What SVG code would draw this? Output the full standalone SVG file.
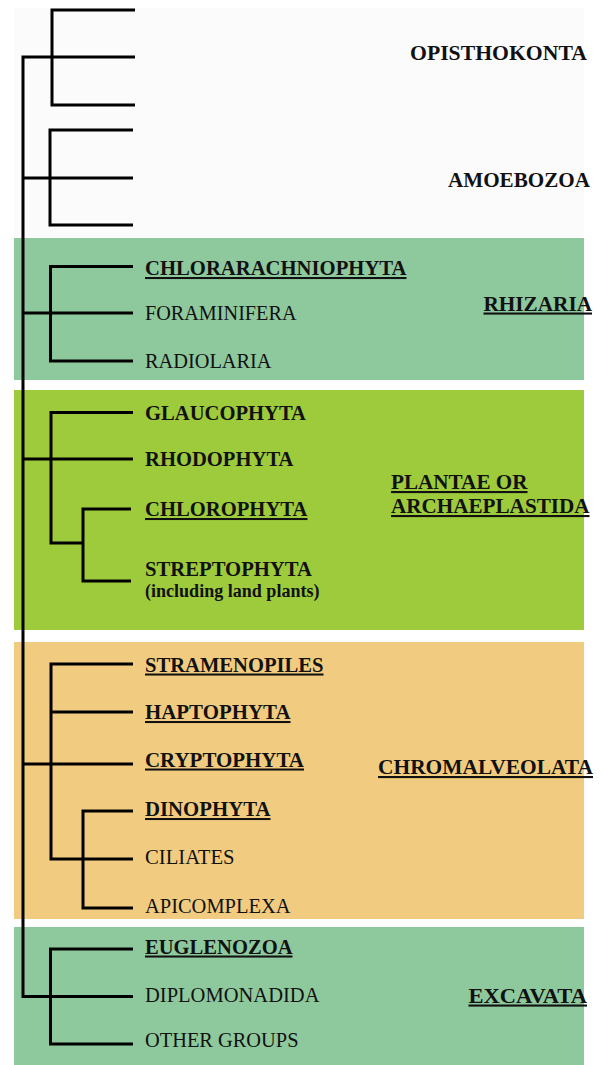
<svg xmlns="http://www.w3.org/2000/svg" width="605" height="1065" viewBox="0 0 605 1065">
<style>
.edge{fill:none;stroke:#000;stroke-width:3;stroke-linejoin:miter;stroke-linecap:butt}
.leaf{font-family:"Liberation Serif","Times New Roman",serif;font-size:20.5px;fill:#111}
.b{font-weight:bold}
.u{text-decoration:underline}
.sub{font-size:18px}
.grp{font-family:"Liberation Serif","Times New Roman",serif;font-size:21px;font-weight:bold;fill:#111}
.green{fill:#8ec89d}
</style>
<rect width="605" height="1065" fill="#ffffff"/>
<rect x="14" y="8" width="570" height="229" fill="#fbfbfb"/>

<g id="opisthokonta">
  <text class="grp" x="410" y="60" textLength="177" lengthAdjust="spacingAndGlyphs">OPISTHOKONTA</text>
</g>
<g id="amoebozoa">
  <text class="grp" x="448" y="187" textLength="142" lengthAdjust="spacingAndGlyphs">AMOEBOZOA</text>
</g>

<g id="rhizaria">
  <rect class="green" x="14" y="238" width="570" height="142"/>
  <text class="grp u" x="483.5" y="310.5" textLength="108.5" lengthAdjust="spacingAndGlyphs">RHIZARIA</text>
</g>
<g id="plantae">
  <rect x="14" y="390" width="570" height="240" fill="#9ecb3c"/>
  <text class="grp u" x="391" y="489" textLength="136.5" lengthAdjust="spacingAndGlyphs">PLANTAE OR</text>
  <text class="grp u" x="391" y="513" textLength="198.5" lengthAdjust="spacingAndGlyphs">ARCHAEPLASTIDA</text>
</g>
<g id="chromalveolata">
  <rect x="14" y="642" width="570" height="277" fill="#f1cc80"/>
  <text class="grp u" x="378" y="774" textLength="215" lengthAdjust="spacingAndGlyphs">CHROMALVEOLATA</text>
</g>
<g id="excavata">
  <rect class="green" x="14" y="927" width="570" height="138"/>
  <text class="grp u" x="468.5" y="1002.5" textLength="118.5" lengthAdjust="spacingAndGlyphs">EXCAVATA</text>
</g>

<g id="connectors">
  <path class="edge" d="M52,57 H23 V996.5 H50.5 M23,178 H50 M23,313 H50.5 M23,459 H51 M23,764 H51"/>
  <path class="edge" d="M135,10 H52 V105 H135 M52,57 H135"/>
  <path class="edge" d="M133,130 H50 V225 H133 M50,178 H133"/>
  <path class="edge" d="M133,266.5 H50.5 V361 H133 M50.5,313 H133"/>
  <path class="edge" d="M133,412.5 H51 V543 H83 M51,459 H133 M131,509 H83 V581 H131"/>
  <path class="edge" d="M133,664 H51 V859 H133 M51,712 H133 M51,764 H133 M133,811 H83 V908 H133"/>
  <path class="edge" d="M133,949 H50.5 V1044 H133 M50.5,996.5 H133"/>
</g>

<g id="chlorarachniophyta"><text class="leaf b u" x="145" y="275" textLength="261.5" lengthAdjust="spacingAndGlyphs">CHLORARACHNIOPHYTA</text></g>
<g id="foraminifera"><text class="leaf" x="145" y="320" textLength="151.5" lengthAdjust="spacingAndGlyphs">FORAMINIFERA</text></g>
<g id="radiolaria"><text class="leaf" x="145" y="368" textLength="126.5" lengthAdjust="spacingAndGlyphs">RADIOLARIA</text></g>

<g id="glaucophyta"><text class="leaf b" x="145" y="419.5" textLength="161" lengthAdjust="spacingAndGlyphs">GLAUCOPHYTA</text></g>
<g id="rhodophyta"><text class="leaf b" x="145" y="466" textLength="148.5" lengthAdjust="spacingAndGlyphs">RHODOPHYTA</text></g>
<g id="chlorophyta"><text class="leaf b u" x="145" y="516" textLength="162.5" lengthAdjust="spacingAndGlyphs">CHLOROPHYTA</text></g>
<g id="streptophyta">
  <text class="leaf b" x="145" y="575.5" textLength="167" lengthAdjust="spacingAndGlyphs">STREPTOPHYTA</text>
  <text class="leaf b sub" x="145" y="597" textLength="174.5" lengthAdjust="spacingAndGlyphs">(including land plants)</text>
</g>

<g id="stramenopiles"><text class="leaf b u" x="145" y="671.5" textLength="178.5" lengthAdjust="spacingAndGlyphs">STRAMENOPILES</text></g>
<g id="haptophyta"><text class="leaf b u" x="145" y="719" textLength="145.5" lengthAdjust="spacingAndGlyphs">HAPTOPHYTA</text></g>
<g id="cryptophyta"><text class="leaf b u" x="145" y="766.5" textLength="159" lengthAdjust="spacingAndGlyphs">CRYPTOPHYTA</text></g>
<g id="dinophyta"><text class="leaf b u" x="145" y="816" textLength="125.5" lengthAdjust="spacingAndGlyphs">DINOPHYTA</text></g>
<g id="ciliates"><text class="leaf" x="145" y="864" textLength="89.5" lengthAdjust="spacingAndGlyphs">CILIATES</text></g>
<g id="apicomplexa"><text class="leaf" x="145" y="913" textLength="145.5" lengthAdjust="spacingAndGlyphs">APICOMPLEXA</text></g>

<g id="euglenozoa"><text class="leaf b u" x="145" y="953.5" textLength="147.5" lengthAdjust="spacingAndGlyphs">EUGLENOZOA</text></g>
<g id="diplomonadida"><text class="leaf" x="145" y="1001.5" textLength="174.5" lengthAdjust="spacingAndGlyphs">DIPLOMONADIDA</text></g>
<g id="other-groups"><text class="leaf" x="145" y="1047" textLength="153.5" lengthAdjust="spacingAndGlyphs">OTHER GROUPS</text></g>
</svg>
